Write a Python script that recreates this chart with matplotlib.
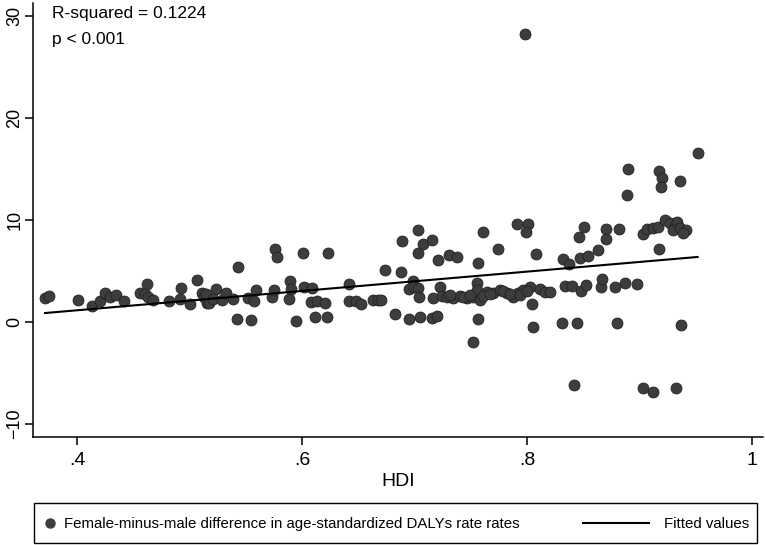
import numpy as np
import matplotlib
matplotlib.use('Agg')
import matplotlib.pyplot as plt
from matplotlib.lines import Line2D
from matplotlib.patches import Rectangle

plt.rcParams['font.family'] = ['Liberation Sans', 'DejaVu Sans']

# HDI and female-minus-male DALY rate difference
hdi = [0.3716, 0.3754, 0.4006, 0.413, 0.4204, 0.4252, 0.4293, 0.4347, 0.4418, 0.456,
       0.462, 0.4604, 0.4634, 0.4673, 0.482, 0.4922, 0.4916, 0.5004, 0.5064, 0.5108,
       0.5153, 0.5129,
       0.5147, 0.5176, 0.5236, 0.5212, 0.5286, 0.5324, 0.5384, 0.5434, 0.5425, 0.5523,
       0.5544, 0.5573, 0.5591, 0.5731, 0.5751, 0.5763, 0.5775, 0.5881, 0.5893, 0.5899,
       0.5944, 0.6012, 0.6018, 0.6086, 0.6077, 0.6130, 0.6202, 0.6113, 0.6219, 0.6234,
       0.6420, 0.642, 0.648, 0.6522, 0.6634, 0.6678, 0.6700,
       0.674, 0.683, 0.6889, 0.688, 0.6954, 0.699, 0.6954, 0.6996, 0.7034, 0.7031,
       0.7031, 0.7049, 0.7073, 0.7153, 0.704, 0.7167, 0.7153, 0.7197, 0.7212, 0.7227,
       0.7242, 0.7304, 0.7375, 0.7286, 0.7345, 0.7404, 0.7464, 0.7523, 0.7553, 0.7558,
       0.7582, 0.7567, 0.7612, 0.7567, 0.7523, 0.7642, 0.7700, 0.7760, 0.7819, 0.7878,
       0.7923, 0.7967, 0.8027, 0.7612, 0.7745, 0.7914, 0.8012, 0.7988, 0.808, 0.8041,
       0.8056, 0.8116, 0.816, 0.8204, 0.798,
       0.7316, 0.7434, 0.7494, 0.7671, 0.7790, 0.7849, 0.7938, 0.7997,
       0.8317, 0.8376, 0.8308, 0.8338, 0.8397, 0.8418, 0.8442, 0.8465, 0.8507, 0.8471,
       0.8545, 0.8477, 0.8524, 0.8628, 0.8654, 0.8669, 0.8699, 0.8699, 0.8782, 0.8797,
       0.8818, 0.8871, 0.8895, 0.8886, 0.8975, 0.9028, 0.9117, 0.9028, 0.9069, 0.9117,
       0.9167, 0.9176, 0.9176, 0.92, 0.9188, 0.9227, 0.9271, 0.9316, 0.9331, 0.93,
       0.936, 0.9413, 0.9389, 0.936, 0.9324, 0.9366, 0.9517]
daly_diff = [2.32, 2.55, 2.12, 1.60, 2.06, 2.87, 2.48, 2.61, 2.09, 2.81,
             3.72, 2.71, 2.48, 2.15, 2.03, 3.36, 2.28, 1.76, 4.11, 2.81,
             1.83, 2.48,
             2.74, 1.89, 3.20, 2.22, 2.15, 2.87, 2.25, 5.36, 0.29, 2.32,
             0.20, 2.06, 3.13, 2.42, 3.13, 7.18, 6.40, 2.22, 4.05, 3.20,
             0.13, 6.79, 3.46, 3.30, 1.99, 2.09, 1.83, 0.46, 0.52, 6.79,
             3.72, 2.03, 2.03, 1.76, 2.15, 2.15, 2.15,
             5.09, 0.78, 7.96, 4.93, 0.33, 4.05, 3.20, 3.40, 3.36, 9.01,
             6.73, 0.49, 7.64, 8.03, 2.42, 2.32, 0.39, 0.59, 6.07, 3.46,
             2.55, 6.53, 6.34, 2.42, 2.32, 2.55, 2.32, 2.42, 3.79, 3.13,
             2.15, 5.81, 8.85, 0.33, -1.96, 2.97, 2.81, 3.13, 2.87, 2.48,
             2.81, 3.13, 3.40, 2.55, 7.18, 9.60, 9.60, 8.81, 6.66, 1.76,
             -0.46, 3.20, 2.97, 2.97, 28.2,
             2.6, 2.45, 2.6, 2.7, 3.0, 2.7, 2.6, 3.0,
             6.14, 5.68, -0.07, 3.56, 3.56, -6.2, -0.13, 8.29, 9.34, 6.24,
             6.46, 3.07, 3.62, 7.05, 3.46, 4.18, 9.14, 8.16, 3.46, -0.07,
             9.07, 3.79, 15.02, 12.41, 3.72, -6.5, -6.83, 8.62, 9.08, 9.24,
             9.28, 7.12, 14.82, 14.07, 13.19, 9.99, 9.67, 9.34, 9.82, 9.01,
             9.18, 9.01, 8.75, 13.84, -6.5, -0.29, 16.52]

# fitted line end points (linear fit as drawn)
fit_x = [0.3716, 0.9517]
fit_y = [0.88, 6.37]

x_ticks = [0.4, 0.6, 0.8, 1.0]
x_ticklabels = ['.4', '.6', '.8', '1']
y_ticks = [-10, 0, 10, 20, 30]

W, H = 765, 545
fig = plt.figure(figsize=(W / 100, H / 100), dpi=100)
ax = fig.add_axes([33 / W, 1 - 437 / H, 730 / W, 434 / H])

dot_color = '#3d3d3d'
ax.scatter(hdi, daly_diff, s=62, color=dot_color, edgecolor='#222222', linewidth=0.6, zorder=3)
ax.plot(fit_x, fit_y, color='black', linewidth=1.5, zorder=4)

ax.set_xlim(0.3609, 1.0098)
ax.set_ylim(-11.26, 31.24)
ax.set_xticks(x_ticks)
ax.set_xticklabels(x_ticklabels)
ax.set_yticks(y_ticks)
for side in ['top', 'right']:
    ax.spines[side].set_visible(False)
for side in ['left', 'bottom']:
    ax.spines[side].set_linewidth(1.1)
ax.tick_params(axis='both', direction='out', length=5.5, width=1.1, colors='black')
ax.tick_params(axis='x', pad=5, labelsize=14)
ax.tick_params(axis='y', pad=1.5, labelsize=13)
for lab in ax.get_yticklabels():
    lab.set_rotation(90)
    lab.set_va('center')
ax.set_xlabel('HDI', fontsize=14, labelpad=3)

fig.text(52 / W, 1 - 6 / H, 'R-squared = 0.1224', fontsize=12.5, va='top', ha='left')
fig.text(52 / W, 1 - 32 / H, 'p < 0.001', fontsize=12.5, va='top', ha='left')

# legend box below the axes, Stata style
fig.patches.append(Rectangle((34 / W, 1 - 543 / H), 723 / W, 40 / H, transform=fig.transFigure,
                             fill=False, edgecolor='black', linewidth=1.0))
h1 = Line2D([], [], marker='o', linestyle='none', markersize=6.5, color=dot_color)
h2 = Line2D([], [], color='black', linewidth=1.5)
fig.legend([h1], ['Female-minus-male difference in age-standardized DALYs rate rates'],
           loc='center left', bbox_to_anchor=(42 / W, 1 - 524 / H), frameon=False,
           fontsize=10.8, handlelength=1.0, handletextpad=0.5, borderpad=0, borderaxespad=0)
fig.legend([h2], ['Fitted values'],
           loc='center right', bbox_to_anchor=(749 / W, 1 - 524 / H), frameon=False,
           fontsize=10.8, handlelength=4.4, handletextpad=1.0, borderpad=0, borderaxespad=0)

fig.savefig('out.png', dpi=100)
